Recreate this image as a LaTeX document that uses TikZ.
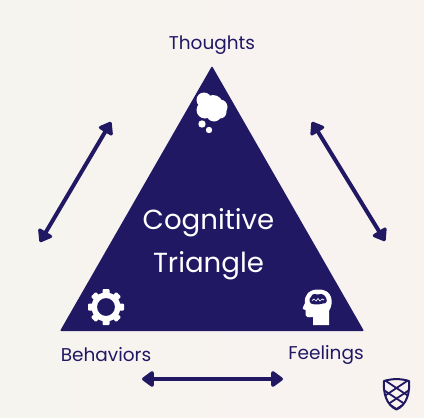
\documentclass[tikz,border=0pt]{standalone}
\usepackage{fontspec}
\setmainfont{Poppins}
\usetikzlibrary{arrows.meta,calc}
\definecolor{navy}{HTML}{211864}
\definecolor{bgl}{HTML}{F6F4EF}
\definecolor{bgr}{HTML}{F9F3F0}
\tikzset{
  x=1pt,y=-1pt,
  dbl/.style={draw=navy,line width=4pt,{Triangle[length=13pt,width=18pt,round]}-{Triangle[length=13pt,width=18pt,round]}},
  lbl/.style={text=navy,font=\fontsize{18.5}{22}\selectfont,inner sep=0pt},
  ttl/.style={text=white,font=\fontsize{27.6}{43}\selectfont,align=center,inner sep=0pt},
  ico/.style={fill=white,draw=none},
  ico2/.style={fill=navy,draw=none}
}
\begin{document}
\begin{tikzpicture}
\useasboundingbox (0,0) rectangle (424,418);
\shade[left color=bgl,right color=bgr] (0,0) rectangle (424,418);
\fill[navy,rounded corners=1pt] (212,66) -- (364,331) -- (60,331) -- cycle;
\node[lbl] (thoughts) at (212,45.5) {Thoughts};
\node[lbl] (behaviors) at (106,354.5) {Behaviors};
\node[lbl] (feelings) at (326,354.5) {Feelings};
\node[ttl] (title) at (208.5,244) {Cognitive\\Triangle};
\coordinate (la) at (111,122); \coordinate (lb) at (40,242);
\coordinate (ra) at (312,122); \coordinate (rb) at (385,241);
\coordinate (ba) at (142,379); \coordinate (bb) at (283,379);
\draw[dbl] (la) -- (lb);
\draw[dbl] (ra) -- (rb);
\draw[dbl] (ba) -- (bb);
% thought cloud
\fill[ico] (204,100) circle (7.5) (213,105) circle (10) (220,107) circle (7.5) (205,110) circle (8.5) (214,114) circle (7.5) (220,112) circle (6.5);
\fill[ico] (202,124) circle (3.7) (209,130) circle (3.2);
% gear
\begin{scope}[shift={(106,307)}]
\foreach \a in {0,45,...,315}{\fill[ico,rotate=\a,rounded corners=1pt] (-3.5,-13) rectangle (3.5,-18);}
\fill[ico,even odd rule] (0,0) circle (14.5) (0,0) circle (9);
\end{scope}
% head
\fill[ico] (329,325) -- (329,311) .. controls (334,303) and (333,289) .. (318,289.5)
  .. controls (309,289.5) and (304,295) .. (305,303) .. controls (304.5,305) and (302,308) .. (303,309)
  -- (305.5,310) -- (305.5,315) .. controls (306,317.5) and (308,317.5) .. (313,317) -- (313,325) -- cycle;
\fill[ico2] (311,297) .. controls (312,293) and (316,294) .. (318,294.5) .. controls (322,293) and (325,295) .. (326,298)
  .. controls (328,301) and (326,304) .. (323,303.5) .. controls (318,305) and (313,304.5) .. (311,303.5)
  .. controls (309,302) and (309,298) .. (311,297) -- cycle;
\draw[white,line width=.7pt] (312,300.5) -- (314,299) -- (316,301) -- (318,298.5) -- (320,301) -- (322,299) -- (324,300);
% logo
\begin{scope}
\clip (384,381) .. controls (392,378.5) and (401,378.5) .. (409,381) .. controls (410,392) and (407,405) .. (396.5,409.5) .. controls (386,405) and (383,392) .. (384,381) -- cycle;
\foreach \d in {0,10.5,21}{
  \draw[navy,line width=1.8pt] (380,{377+\d}) -- (416,{401+\d});
  \draw[navy,line width=1.8pt] (413,{377+\d}) -- (377,{401+\d});
}
\end{scope}
\draw[navy,line width=2pt,line join=round] (384,381) .. controls (392,378.5) and (401,378.5) .. (409,381) .. controls (410,392) and (407,405) .. (396.5,409.5) .. controls (386,405) and (383,392) .. (384,381) -- cycle;
\end{tikzpicture}
\end{document}
